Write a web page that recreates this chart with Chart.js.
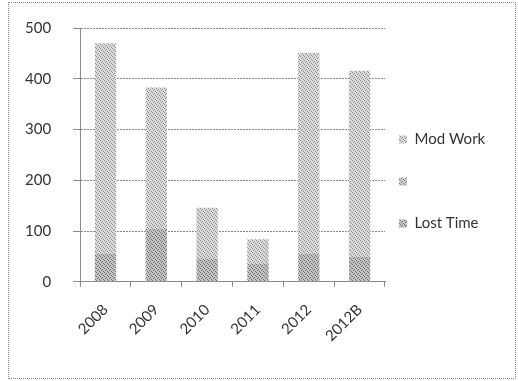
<!DOCTYPE html>
<html>
<head>
<meta charset="utf-8">
<script src="https://cdn.jsdelivr.net/npm/chart.js@4/dist/chart.umd.min.js"></script>
<style>
  html, body { margin: 0; padding: 0; background: #fff; }
  #wrap { position: relative; width: 518px; height: 381px; }
  #frame {
    position: absolute; left: 8px; top: 2px; width: 506px; height: 375px;
    border: 1px dotted #8a8a8a;
  }
  #chart { position: absolute; left: 0; top: 0; }
</style>
</head>
<body>
<div id="wrap">
  <div id="frame"></div>
  <canvas id="chart" width="518" height="381"></canvas>
</div>
<script>
'use strict';

// ── Data ───────────────────────────────────────────────────
const years    = ['2008', '2009', '2010', '2011', '2012', '2012B'];
const lostTime = [55, 105, 45, 35, 55, 50];
const blank    = [0, 0, 0, 0, 0, 0];
const modWork  = [415, 278, 101, 49, 396, 366];
const yTicks   = [0, 100, 200, 300, 400, 500];

// stippled grey fill, like the scanned print
function stipple(bg, dot) {
  const c = document.createElement('canvas');
  c.width = 4; c.height = 4;
  const g = c.getContext('2d');
  g.fillStyle = bg;
  g.fillRect(0, 0, 4, 4);
  g.fillStyle = dot;
  g.fillRect(0, 0, 1, 1);
  g.fillRect(2, 1, 1, 1);
  g.fillRect(1, 2, 1, 1);
  g.fillRect(3, 3, 1, 1);
  return g.createPattern(c, 'repeat');
}

const FONT = { family: 'Lato, "Open Sans", sans-serif', size: 15 };
const lightFill = stipple('#dcdcdc', '#8c8c8c');
const darkFill  = stipple('#c4c4c4', '#6e6e6e');
const midFill   = stipple('#d0d0d0', '#7a7a7a');

// legend sits closer to the plot than its (tall) item padding would allow
const legendNudge = {
  id: 'legendNudge',
  afterLayout(chart) {
    const lg = chart.legend;
    lg.left -= 13;
    lg.right -= 13;
    lg.top -= 12;
    lg.bottom -= 12;
  }
};

const ctx = document.getElementById('chart').getContext('2d');
new Chart(ctx, {
  type: 'bar',
  data: {
    labels: years,
    datasets: [
      { label: 'Lost Time', data: lostTime, backgroundColor: darkFill },
      { label: '',          data: blank,    backgroundColor: midFill },
      { label: 'Mod Work',  data: modWork,  backgroundColor: lightFill }
    ]
  },
  options: {
    responsive: false,
    animation: false,
    datasets: { bar: { barPercentage: 0.42, categoryPercentage: 1 } },
    layout: { padding: { left: 3, top: 28, right: 15, bottom: 22 } },
    plugins: {
      tooltip: { enabled: false },
      legend: {
        position: 'right',
        reverse: true,
        maxWidth: 118,
        labels: {
          boxWidth: 8,
          boxHeight: 8,
          padding: 27,
          color: '#333',
          font: FONT
        }
      }
    },
    scales: {
      x: {
        stacked: true,
        grid: { drawOnChartArea: false, drawTicks: true, tickLength: 5, color: '#8a8a8a' },
        border: { color: '#8a8a8a', dash: [2, 1] },
        ticks: { color: '#333', font: FONT, minRotation: 45, maxRotation: 45, padding: 14 }
      },
      y: {
        stacked: true,
        min: 0,
        max: 500,
        afterBuildTicks: axis => { axis.ticks = yTicks.map(v => ({ value: v })); },
        afterFit: axis => { axis.paddingTop = 0; axis.paddingBottom = 0; },
        grid: { color: '#8a8a8a', tickLength: 7 },
        border: { color: '#8a8a8a', dash: [2, 1] },
        ticks: { color: '#333', font: FONT, padding: 22 }
      }
    }
  },
  plugins: [legendNudge]
});
</script>
</body>
</html>
